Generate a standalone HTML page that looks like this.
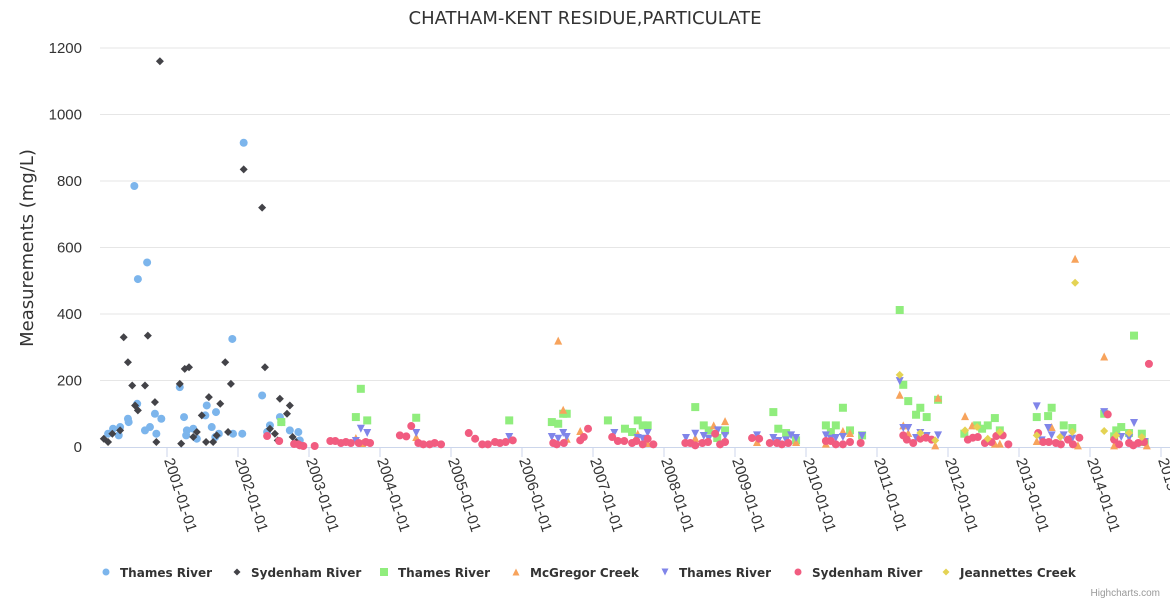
<!DOCTYPE html>
<html><head><meta charset="utf-8">
<style>
body{margin:0;background:#fff;width:1170px;height:600px;overflow:hidden;font-family:"Liberation Sans",sans-serif}
svg text{font-family:"Liberation Sans",sans-serif}
svg text.dv{font-family:"DejaVu Sans",sans-serif}
</style></head>
<body>
<svg id="chart" width="1170" height="600" xmlns="http://www.w3.org/2000/svg">
<text class="dv" x="585" y="24" text-anchor="middle" font-size="18" fill="#333">CHATHAM-KENT RESIDUE,PARTICULATE</text>
<text class="dv" transform="translate(33,248) rotate(-90)" text-anchor="middle" font-size="18" fill="#333">Measurements (mg/L)</text>
<g id="grid"></g><g id="xaxis"></g><g id="marks"></g><g id="legend"></g>
<text x="1160" y="596" text-anchor="end" font-size="10" fill="#999">Highcharts.com</text>
</svg>
<script>
const yTicks=[0,200,400,600,800,1000,1200];
const xTickYears=[2001,2002,2003,2004,2005,2006,2007,2008,2009,2010,2011,2012,2013,2014,2015];
const seriesNames=["Thames River","Sydenham River","Thames River","McGregor Creek","Thames River","Sydenham River","Jeannettes Creek"];
const s1=[[2000.17,40],[2000.24,55],[2000.32,35],[2000.34,60],[2000.45,85],[2000.46,75],[2000.54,785],[2000.58,130],[2000.59,505],[2000.69,50],[2000.72,555],[2000.76,60],[2000.83,100],[2000.85,40],[2000.92,85],[2001.18,180],[2001.24,90],[2001.27,35],[2001.28,50],[2001.37,55],[2001.42,25],[2001.54,95],[2001.56,125],[2001.63,60],[2001.68,30],[2001.69,105],[2001.73,40],[2001.92,325],[2001.93,40],[2002.08,915],[2002.06,40],[2002.34,155],[2002.41,45],[2002.45,65],[2002.59,90],[2002.61,75],[2002.73,50],[2002.85,45],[2002.87,20]];
const s2=[[2000.11,25],[2000.17,15],[2000.23,40],[2000.34,50],[2000.39,330],[2000.45,255],[2000.51,185],[2000.55,125],[2000.59,110],[2000.69,185],[2000.73,335],[2000.83,135],[2000.85,15],[2000.9,1160],[2001.18,190],[2001.2,10],[2001.25,235],[2001.31,240],[2001.37,30],[2001.42,45],[2001.49,95],[2001.55,15],[2001.59,150],[2001.65,15],[2001.7,35],[2001.75,130],[2001.82,255],[2001.86,45],[2001.9,190],[2002.08,835],[2002.34,720],[2002.38,240],[2002.45,55],[2002.52,40],[2002.56,20],[2002.59,145],[2002.69,100],[2002.73,125],[2002.77,30],[2002.82,15]];
const s3=[[2002.61,75],[2003.73,175],[2003.66,90],[2003.82,80],[2004.51,88],[2005.82,80],[2006.42,75],[2006.51,70],[2006.58,100],[2006.63,100],[2007.21,80],[2007.45,55],[2007.55,45],[2007.63,80],[2007.70,65],[2007.77,65],[2008.44,120],[2008.56,65],[2008.63,50],[2008.75,27],[2008.86,50],[2009.54,105],[2009.61,55],[2009.72,42],[2009.86,20],[2010.28,65],[2010.35,45],[2010.42,65],[2010.52,118],[2010.62,50],[2010.79,35],[2011.32,412],[2011.37,187],[2011.44,138],[2011.55,97],[2011.61,118],[2011.70,90],[2011.86,142],[2012.23,40],[2012.41,65],[2012.48,55],[2012.56,65],[2012.66,87],[2012.73,50],[2013.25,90],[2013.41,93],[2013.46,118],[2013.63,65],[2013.75,57],[2014.20,100],[2014.34,32],[2014.37,50],[2014.44,60],[2014.55,42],[2014.62,335],[2014.73,40],[2014.77,15]];
const s4=[[2003.66,27],[2003.75,12],[2004.51,30],[2006.51,320],[2006.58,112],[2006.63,25],[2006.82,48],[2007.63,40],[2007.77,12],[2008.44,27],[2008.70,65],[2008.86,78],[2009.31,15],[2009.86,15],[2010.52,48],[2010.62,42],[2010.28,10],[2011.32,157],[2011.37,65],[2011.44,42],[2011.86,148],[2011.82,5],[2012.24,93],[2012.34,65],[2012.66,10],[2012.73,10],[2013.25,18],[2013.46,60],[2013.79,566],[2013.83,5],[2014.20,272],[2014.34,5],[2014.80,5]];
const s5=[[2003.73,55],[2003.82,42],[2003.66,18],[2004.51,42],[2005.82,30],[2006.42,30],[2006.51,25],[2006.58,42],[2006.63,30],[2007.30,42],[2007.63,27],[2007.70,25],[2007.77,42],[2008.31,27],[2008.44,40],[2008.56,33],[2008.63,25],[2008.76,50],[2008.86,33],[2009.31,35],[2009.54,27],[2009.61,18],[2009.72,20],[2009.79,35],[2009.86,27],[2010.28,35],[2010.35,25],[2010.42,27],[2010.52,30],[2010.79,33],[2011.32,198],[2011.37,57],[2011.44,57],[2011.61,42],[2011.55,27],[2011.70,33],[2011.86,35],[2013.25,122],[2013.32,20],[2013.41,57],[2013.46,35],[2013.63,35],[2013.75,25],[2014.20,105],[2014.44,30],[2014.55,27],[2014.62,72],[2014.77,15]];
const s6=[[2002.41,33],[2002.58,18],[2002.79,9],[2002.85,8],[2002.92,3],[2002.87,5],[2003.08,3],[2003.30,18],[2003.37,18],[2003.45,12],[2003.52,15],[2003.59,12],[2003.70,12],[2003.80,15],[2003.86,12],[2004.28,35],[2004.37,32],[2004.44,63],[2004.54,12],[2004.61,8],[2004.70,8],[2004.77,12],[2004.86,8],[2005.25,42],[2005.34,25],[2005.44,8],[2005.52,8],[2005.62,15],[2005.69,12],[2005.77,15],[2005.87,20],[2006.44,12],[2006.49,8],[2006.59,12],[2006.82,20],[2006.87,30],[2006.93,55],[2007.27,30],[2007.35,18],[2007.44,18],[2007.55,12],[2007.61,18],[2007.70,8],[2007.77,25],[2007.85,8],[2008.30,12],[2008.37,12],[2008.44,5],[2008.54,12],[2008.62,15],[2008.72,40],[2008.79,8],[2008.86,15],[2009.24,27],[2009.34,25],[2009.49,12],[2009.59,12],[2009.66,8],[2009.75,12],[2010.28,18],[2010.35,18],[2010.42,8],[2010.52,8],[2010.62,15],[2010.77,12],[2011.37,35],[2011.42,22],[2011.51,12],[2011.61,25],[2011.69,28],[2011.77,22],[2012.28,22],[2012.35,28],[2012.42,30],[2012.52,12],[2012.61,15],[2012.68,33],[2012.77,35],[2012.85,8],[2013.27,42],[2013.34,15],[2013.42,15],[2013.52,12],[2013.59,8],[2013.69,22],[2013.76,8],[2013.85,28],[2014.25,98],[2014.34,22],[2014.41,8],[2014.55,12],[2014.61,5],[2014.68,12],[2014.76,15],[2014.83,250]];
const s7=[[2011.32,217],[2011.61,42],[2011.82,20],[2012.24,50],[2012.41,60],[2012.56,25],[2012.73,45],[2013.25,35],[2013.58,30],[2013.75,45],[2013.79,494],[2014.20,48],[2014.37,35],[2014.55,42],[2014.73,30]];
const allSeries=[s1,s2,s3,s4,s5,s6,s7];
const colors=["#7cb5ec","#434348","#90ed7d","#f7a35c","#8085e9","#f15c80","#e4d354"];
const shapes=["circle","diamond","square","triangle","triangle-down","circle","diamond"];
const NS="http://www.w3.org/2000/svg";
const L=100,R=1170,T=48,B=447;
function yS(v){return B-(v/1200)*(B-T);}
function xS(yr){return 167+(yr-2001)*71;}
function mk(tag,at,parent){const e=document.createElementNS(NS,tag);for(const k in at)e.setAttribute(k,at[k]);parent.appendChild(e);return e;}
const grid=document.getElementById('grid');
yTicks.forEach(v=>{
  const y=yS(v);
  if(v>0){const g=mk('line',{x1:L,x2:R,y1:y,y2:y,stroke:'#e6e6e6'},grid);
  
  }
  const t=mk('text',{x:82,y:y+5,'text-anchor':'end','font-size':15,fill:'#333'},grid);
  t.textContent=v;
  
  
});
const xa=document.getElementById('xaxis');
const ax=mk('line',{x1:L,x2:R,y1:B+0.5,y2:B+0.5,stroke:'#ccd6eb'},xa);


xTickYears.forEach(yr=>{
  const x=xS(yr);
  const tk=mk('line',{x1:x,x2:x,y1:B,y2:B+10,stroke:'#ccd6eb'},xa);
  
  
  const t=mk('text',{transform:`translate(${x-3},${B+13}) rotate(72)`,'font-size':15,fill:'#333'},xa);
  t.textContent=yr+'-01-01';
  
  
});
function marker(shape,x,y,c,parent,sz){
  const r=sz||4;let e;
  if(shape==='circle')e=mk('circle',{cx:x,cy:y,r:r,fill:c},parent);
  else if(shape==='square')e=mk('rect',{x:x-r,y:y-r,width:2*r,height:2*r,fill:c},parent);
  else if(shape==='diamond')e=mk('path',{d:`M${x} ${y-r}L${x+r} ${y}L${x} ${y+r}L${x-r} ${y}Z`,fill:c},parent);
  else if(shape==='triangle')e=mk('path',{d:`M${x} ${y-r}L${x+r} ${y+r}L${x-r} ${y+r}Z`,fill:c},parent);
  else e=mk('path',{d:`M${x-r} ${y-r}L${x+r} ${y-r}L${x} ${y+r}Z`,fill:c},parent);
  return e;
}
const marks=document.getElementById('marks');
allSeries.forEach((s,i)=>{
  const g=mk('g',{},marks);
  
  
  s.forEach(p=>{
    const m=marker(shapes[i],xS(p[0]),yS(p[1]),colors[i],g);
    
    
  });
});
const legX=[106,237,384,516,665,798,946];
const leg=document.getElementById('legend');
seriesNames.forEach((n,i)=>{
  const g=mk('g',{},leg);
  
  
  marker(shapes[i],legX[i],572,colors[i],g,shapes[i]==='square'?4:3.5);
  const t=mk('text',{x:legX[i]+14,y:577,'font-size':12,'font-weight':'bold',fill:'#333','class':'dv'},g);
  t.textContent=n;
});
</script>
</body></html>
